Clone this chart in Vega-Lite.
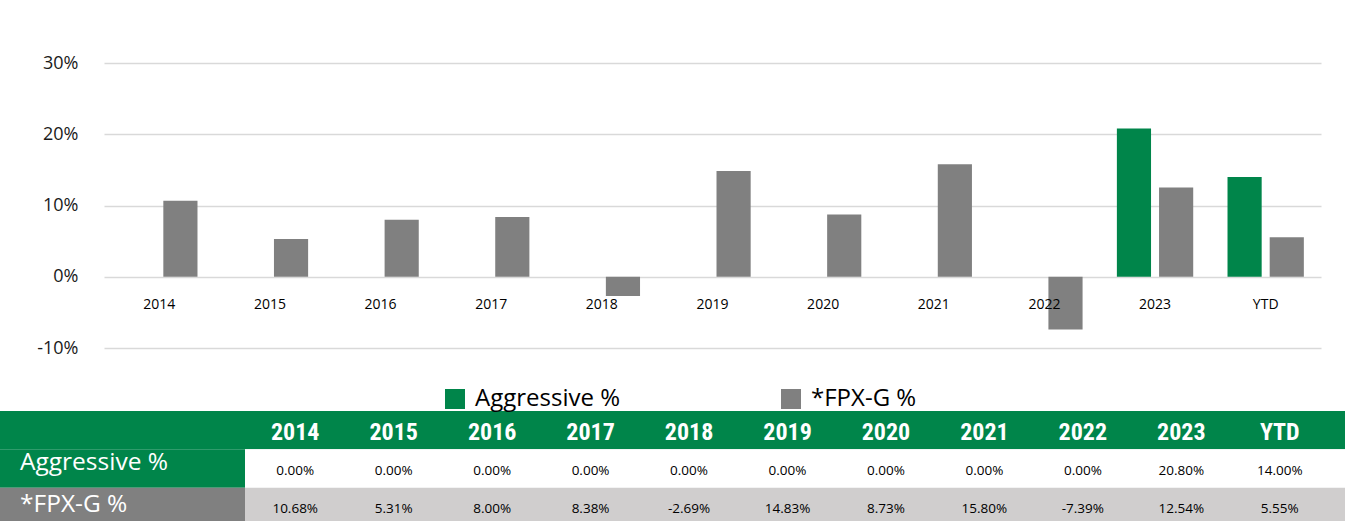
{
  "$schema": "https://vega.github.io/schema/vega-lite/v6.json",
  "width": 1349,
  "height": 521,
  "padding": 0,
  "autosize": {"type": "none"},
  "background": "#ffffff",
  "config": {
    "view": {"stroke": null},
    "font": "Open Sans",
    "locale": {"number": {"decimal": ".", "thousands": ",", "grouping": [3], "currency": ["$", ""], "minus": "-"}}
  },
  "datasets": {
    "bars": [
      {"year": "2014", "series": "Aggressive %", "value": 0},
      {"year": "2014", "series": "*FPX-G %", "value": 0.1068},
      {"year": "2015", "series": "Aggressive %", "value": 0},
      {"year": "2015", "series": "*FPX-G %", "value": 0.0531},
      {"year": "2016", "series": "Aggressive %", "value": 0},
      {"year": "2016", "series": "*FPX-G %", "value": 0.08},
      {"year": "2017", "series": "Aggressive %", "value": 0},
      {"year": "2017", "series": "*FPX-G %", "value": 0.0838},
      {"year": "2018", "series": "Aggressive %", "value": 0},
      {"year": "2018", "series": "*FPX-G %", "value": -0.0269},
      {"year": "2019", "series": "Aggressive %", "value": 0},
      {"year": "2019", "series": "*FPX-G %", "value": 0.1483},
      {"year": "2020", "series": "Aggressive %", "value": 0},
      {"year": "2020", "series": "*FPX-G %", "value": 0.0873},
      {"year": "2021", "series": "Aggressive %", "value": 0},
      {"year": "2021", "series": "*FPX-G %", "value": 0.158},
      {"year": "2022", "series": "Aggressive %", "value": 0},
      {"year": "2022", "series": "*FPX-G %", "value": -0.0739},
      {"year": "2023", "series": "Aggressive %", "value": 0.208},
      {"year": "2023", "series": "*FPX-G %", "value": 0.1254},
      {"year": "YTD", "series": "Aggressive %", "value": 0.14},
      {"year": "YTD", "series": "*FPX-G %", "value": 0.0555}
    ],
    "rows": [
      {"row": "header"},
      {"row": "Aggressive %"},
      {"row": "*FPX-G %"}
    ]
  },
  "resolve": {
    "scale": {"x": "independent", "y": "independent", "color": "independent"},
    "axis": {"x": "independent", "y": "independent"}
  },
  "layer": [
    {
      "data": {"name": "bars"},
      "mark": {"type": "bar"},
      "encoding": {
        "x": {
          "field": "year", "type": "nominal",
          "scale": {"domain": ["2014","2015","2016","2017","2018","2019","2020","2021","2022","2023","YTD"], "range": [104, 1321], "paddingInner": 0.31, "paddingOuter": 0.155},
          "axis": {"orient": "bottom", "offset": -244, "domain": false, "ticks": false, "tickSize": 0, "labelPadding": 20, "labelAngle": 0, "title": null, "labelFontSize": 14, "labelFont": "Open Sans", "labelColor": "#000000", "zindex": 1, "grid": false}
        },
        "xOffset": {
          "field": "series", "type": "nominal",
          "scale": {"domain": ["Aggressive %", "*FPX-G %"], "paddingInner": 0.19, "paddingOuter": 0}
        },
        "y": {
          "field": "value", "type": "quantitative",
          "scale": {"domain": [-0.1, 0.3], "range": [348, 63], "nice": false, "zero": false},
          "axis": {"offset": -104, "domain": false, "ticks": false, "tickSize": 0, "labelPadding": 26, "grid": true, "gridColor": "#d9d9d9", "gridWidth": 1.5, "values": [-0.1, 0, 0.1, 0.2, 0.3], "format": ".0%", "title": null, "labelFontSize": 18, "labelFont": "Open Sans", "labelColor": "#1a1a1a"}
        },
        "color": {
          "field": "series", "type": "nominal",
          "scale": {"domain": ["Aggressive %", "*FPX-G %"], "range": ["#00854A", "#808080"]},
          "legend": {"orient": "none", "legendX": 443, "legendY": 387, "direction": "horizontal", "title": null, "symbolType": "square", "symbolSize": 400, "symbolStrokeWidth": 0, "labelFontSize": 24, "labelFont": "Open Sans", "labelColor": "#000000", "columnPadding": 159, "padding": 0, "labelOffset": 8}
        }
      }
    },
    {
      "data": {"name": "rows"},
      "mark": {"type": "rect"},
      "encoding": {
        "x": {"datum": 0, "type": "quantitative", "scale": {"domain": [0, 1], "range": [245, 1345]}, "axis": null},
        "x2": {"datum": 1},
        "y": {"field": "row", "type": "nominal", "scale": {"type": "band", "domain": ["header", "Aggressive %", "*FPX-G %"], "range": [411, 526], "paddingInner": 0, "paddingOuter": 0}, "axis": null},
        "fill": {
          "condition": [
            {"test": "datum.row === 'header'", "value": "#00854A"},
            {"test": "datum.row === 'Aggressive %'", "value": "#ffffff"}
          ],
          "value": "#D0CECE"
        }
      }
    },
    {
      "data": {"name": "rows"},
      "mark": {"type": "rect"},
      "encoding": {
        "x": {"datum": 0, "type": "quantitative", "scale": {"domain": [0, 1], "range": [0, 245]}, "axis": null},
        "x2": {"datum": 1},
        "y": {"field": "row", "type": "nominal", "scale": {"type": "band", "domain": ["header", "Aggressive %", "*FPX-G %"], "range": [411, 526], "paddingInner": 0, "paddingOuter": 0}, "axis": null},
        "fill": {
          "condition": {"test": "datum.row === '*FPX-G %'", "value": "#808080"},
          "value": "#00854A"
        }
      }
    },
    {
      "data": {"name": "rows"},
      "transform": [{"filter": "datum.row === 'Aggressive %'"}],
      "mark": {"type": "text", "align": "left", "baseline": "alphabetic", "dx": 20, "dy": 1, "fontSize": 24.5, "font": "Open Sans", "color": "#ffffff"},
      "encoding": {
        "x": {"datum": 0, "type": "quantitative", "scale": {"domain": [0, 1], "range": [0, 245]}, "axis": null},
        "y": {"field": "row", "type": "nominal", "scale": {"type": "band", "domain": ["header", "Aggressive %", "*FPX-G %"], "range": [411, 526], "paddingInner": 0, "paddingOuter": 0}, "axis": null},
        "text": {"field": "row"}
      }
    },
    {
      "data": {"name": "rows"},
      "transform": [{"filter": "datum.row === '*FPX-G %'"}],
      "mark": {"type": "text", "align": "left", "baseline": "alphabetic", "dx": 20, "dy": 5, "fontSize": 24.5, "font": "Open Sans", "color": "#ffffff"},
      "encoding": {
        "x": {"datum": 0, "type": "quantitative", "scale": {"domain": [0, 1], "range": [0, 245]}, "axis": null},
        "y": {"field": "row", "type": "nominal", "scale": {"type": "band", "domain": ["header", "Aggressive %", "*FPX-G %"], "range": [411, 526], "paddingInner": 0, "paddingOuter": 0}, "axis": null},
        "text": {"field": "row"}
      }
    },
    {
      "data": {"name": "bars"},
      "transform": [{"filter": "datum.series === 'Aggressive %'"}],
      "mark": {"type": "text", "align": "center", "baseline": "middle", "dy": 3, "fontSize": 24, "fontWeight": "bold", "font": "Liberation Sans Narrow, Roboto Condensed, DejaVu Sans Condensed, sans-serif", "color": "#ffffff"},
      "encoding": {
        "x": {"field": "year", "type": "nominal", "scale": {"domain": ["2014","2015","2016","2017","2018","2019","2020","2021","2022","2023","YTD"], "range": [246, 1329], "paddingInner": 0, "paddingOuter": 0}, "axis": null},
        "y": {"datum": "header", "type": "nominal", "scale": {"type": "band", "domain": ["header", "Aggressive %", "*FPX-G %"], "range": [411, 526], "paddingInner": 0, "paddingOuter": 0}, "axis": null},
        "text": {"field": "year"}
      }
    },
    {
      "data": {"name": "bars"},
      "mark": {"type": "text", "align": "center", "baseline": "middle", "dy": 2, "fontSize": 13.5, "font": "Open Sans", "color": "#000000"},
      "encoding": {
        "x": {"field": "year", "type": "nominal", "scale": {"domain": ["2014","2015","2016","2017","2018","2019","2020","2021","2022","2023","YTD"], "range": [246, 1329], "paddingInner": 0, "paddingOuter": 0}, "axis": null},
        "y": {"field": "series", "type": "nominal", "scale": {"type": "band", "domain": ["header", "Aggressive %", "*FPX-G %"], "range": [411, 526], "paddingInner": 0, "paddingOuter": 0}, "axis": null},
        "text": {"field": "value", "type": "quantitative", "format": ".2%"}
      }
    }
  ]
}
